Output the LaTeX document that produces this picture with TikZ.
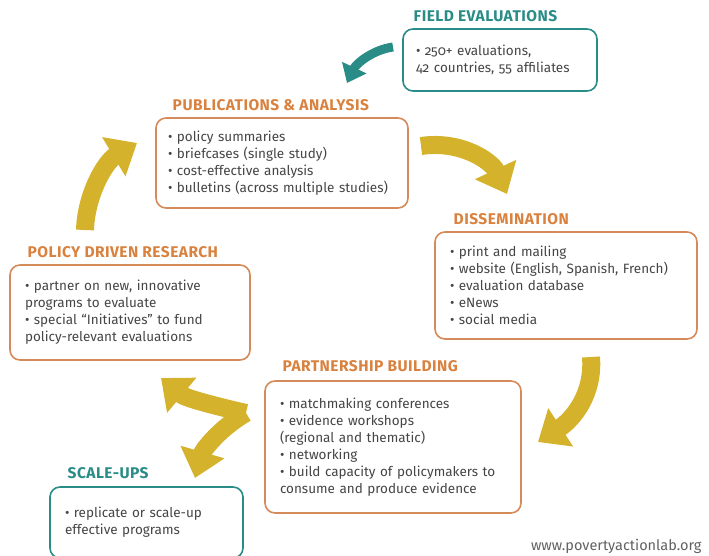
\documentclass[tikz,border=0pt]{standalone}
\usepackage{fontspec}
\setmainfont[Numbers=OldStyle]{Fira Sans}
\newfontfamily\headfont[LetterSpace=3]{Fira Sans}
\usepackage{tikz}
\usetikzlibrary{arrows.meta, positioning}
\definecolor{fieldteal}{HTML}{2A8C86}
\definecolor{boxorange}{HTML}{D58A5A}
\definecolor{headorange}{HTML}{D9823F}
\definecolor{cyclegold}{HTML}{D4B22B}
\definecolor{bodygray}{HTML}{454545}

\begin{document}
\begin{tikzpicture}[x=1pt, y=-1pt,
            every node/.style={font=\fontsize{13.5}{17}\selectfont, text=bodygray},
            stage/.style={draw=boxorange, line width=1.6pt, rounded corners=10pt, inner xsep=15pt, inner ysep=0pt, align=left},
            tealstage/.style={stage, draw=fieldteal},
            heading/.style={font=\headfont\bfseries\fontsize{15.5}{18}\selectfont, text=headorange},
            tealheading/.style={heading, text=fieldteal},
            goldarrow/.style={draw=cyclegold, line width=18pt, -{Triangle[length=27pt, width=44pt]}},
            tealarrow/.style={draw=fieldteal, line width=9pt, -{Triangle[length=17pt, width=26pt]}}]
            \useasboundingbox (0, 0) rectangle (709, 556);
            \node[tealstage, inner xsep=13pt, text width=168pt, minimum height=62pt] (field) at (500, 60) {• 250+ evaluations,\\42 countries, 55 affiliates};
            \node[stage, inner xsep=12pt, text width=228pt, minimum height=90pt] (pub) at (282, 163) {• policy summaries\\• briefcases (single study)\\• cost-effective analysis\\• bulletins (across multiple studies)};
            \node[stage, text width=232pt, minimum height=107pt] (diss) at (566, 285.5) {• print and mailing\\• website (English, Spanish, French)\\• evaluation database\\• eNews\\• social media};
            \node[stage, text width=210pt, minimum height=95pt] (pol) at (130, 312.5) {• partner on new, innovative\\programs to evaluate\\• special “Initiatives” to fund\\policy-relevant evaluations};
            \node[stage, text width=226pt, minimum height=132pt] (part) at (393, 447) {• matchmaking conferences\\• evidence workshops\\(regional and thematic)\\• networking\\• build capacity of policymakers to\\consume and produce evidence};
            \node[tealstage, text width=163pt, minimum height=71pt] (scale) at (146.5, 522.5) {• replicate or scale-up\\effective programs};
            \node[tealheading, above right=7pt and 8pt of field.north west, anchor=base west] (fieldhead) {FIELD EVALUATIONS};
            \node[heading, above right=7pt and 14pt of pub.north west, anchor=base west] (pubhead) {PUBLICATIONS \& ANALYSIS};
            \node[heading, above right=7pt and 16pt of diss.north west, anchor=base west] (disshead) {DISSEMINATION};
            \node[heading, above right=7pt and 15pt of pol.north west, anchor=base west] (polhead) {POLICY DRIVEN RESEARCH};
            \node[heading, above right=9pt and 15pt of part.north west, anchor=base west] (parthead) {PARTNERSHIP BUILDING};
            \node[tealheading, above right=8pt and 15pt of scale.north west, anchor=base west] (scalehead) {SCALE-UPS};
            \node[anchor=base east, font=\fontsize{14.5}{16}\selectfont, text=bodygray!85] (url) at (705, 550) {www.povertyactionlab.org};
            \coordinate (fieldout) at (393, 47);
            \coordinate (pubin) at (347, 83);
            \coordinate (polout) at (85, 230);
            \coordinate (pubtip) at (137, 143);
            \coordinate (pubout) at (421, 146);
            \coordinate (disstip) at (507, 194);
            \coordinate (dissout) at (591, 357);
            \coordinate (parttip) at (538, 442);
            \coordinate (split) at (246, 413);
            \coordinate (poltip) at (161, 378);
            \coordinate (scaletip) at (195, 478);
            \draw[tealarrow] (fieldout) .. controls (372, 50) and (356, 64) .. (pubin);
            \draw[goldarrow] (polout) .. controls (86, 195) and (105, 162) .. (pubtip);
            \draw[goldarrow] (pubout) .. controls (462, 140) and (492, 162) .. (disstip);
            \draw[goldarrow] (dissout) .. controls (594, 395) and (572, 420) .. (parttip);
            \draw[goldarrow] (split) .. controls (215, 406) and (185, 398) .. (poltip);
            \draw[goldarrow] (split) .. controls (220, 428) and (203, 450) .. (scaletip);
        \end{tikzpicture}
\end{document}
